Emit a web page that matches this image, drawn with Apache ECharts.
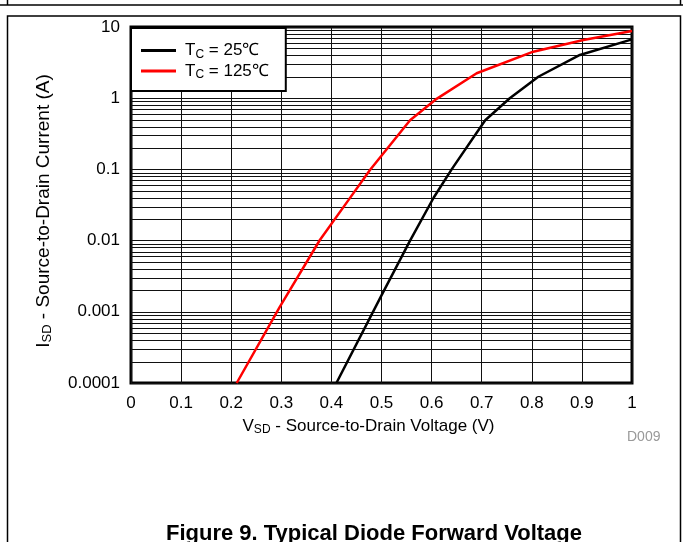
<!DOCTYPE html>
<html><head><meta charset="utf-8">
<script src="https://cdn.jsdelivr.net/npm/echarts@6/dist/echarts.min.js"></script>
<style>html,body{margin:0;padding:0;background:#fff}#c{width:683px;height:542px}</style>
</head><body><div id="c"></div>
<script>
// Data
const vsd25 = [0.41, 0.50, 0.557, 0.604, 0.64, 0.707, 0.756, 0.813, 0.896, 1.0];
const isd25 = [0.0001, 0.0017, 0.01, 0.04, 0.1, 0.49, 1.0, 2.0, 4.05, 6.7];
const vsd125 = [0.211, 0.297, 0.377, 0.434, 0.477, 0.557, 0.61, 0.69, 0.803, 0.903, 1.0];
const isd125 = [0.0001, 0.00117, 0.0102, 0.037, 0.098, 0.49, 0.98, 2.24, 4.5, 6.56, 8.8];
const xTicks = ['0','0.1','0.2','0.3','0.4','0.5','0.6','0.7','0.8','0.9','1'];
const yTicks = ['0.0001','0.001','0.01','0.1','1','10'];
const decades = [0.0001, 0.001, 0.01, 0.1, 1];
const minorMult = [2,3,4,5,6,7,8,9];

const minorVals = [];
decades.forEach(d => minorMult.forEach(m => minorVals.push(+(d*m).toPrecision(2))));

const FONT = '"Liberation Sans", Arial, sans-serif';
const chart = echarts.init(document.getElementById('c'), null, {renderer:'canvas'});
const richX = {
  n: {fontFamily: FONT, fontSize: 17, color:'#000'},
  s: {fontFamily: FONT, fontSize: 12, color:'#000', padding:[8,0,0,0]}
};
const richY = {
  n: {fontFamily: FONT, fontSize: 19, color:'#000'},
  s: {fontFamily: FONT, fontSize: 13, color:'#000', padding:[8,0,0,0]}
};
const richL = {
  n: {fontFamily: FONT, fontSize: 17, color:'#000'},
  s: {fontFamily: FONT, fontSize: 12, color:'#000', padding:[8,0,0,0]}
};
chart.setOption({
  animation: false,
  backgroundColor: '#fff',
  grid: {left:131, right:51, top:27, bottom:159, show:true, borderColor:'#000', borderWidth:3, backgroundColor:'transparent'},
  xAxis: {
    type:'value', min:0, max:1, interval:0.1,
    axisLine:{show:false}, axisTick:{show:false},
    axisLabel:{fontFamily:FONT, fontSize:17, color:'#000', margin:12,
      formatter:(v)=> xTicks[Math.round(v*10)]},
    splitLine:{show:true, lineStyle:{color:'#111', width:1}},
    name:'{n|V}{s|SD}{n| - Source-to-Drain Voltage (V)}',
    nameLocation:'middle', nameGap:33,
    nameTextStyle:{rich: richX, padding:[0,26,0,0]}
  },
  yAxis: {
    type:'log', logBase:10, min:0.0001, max:10,
    axisLine:{show:false}, axisTick:{show:false},
    axisLabel:{fontFamily:FONT, fontSize:17, color:'#000', margin:11,
      formatter:(v)=> yTicks[Math.round(Math.log10(v))+4]},
    splitLine:{show:true, lineStyle:{color:'#111', width:1}},
    name:'{n|I}{s|SD}{n| - Source-to-Drain Current (A)}',
    nameLocation:'middle', nameGap:77,
    nameTextStyle:{rich: richY, padding:[0,12,0,0]}
  },
  legend: {
    left:131, top:28, orient:'vertical',
    backgroundColor:'#fff', borderColor:'#000', borderWidth:2,
    padding:[14,17,10,10], itemWidth:35, itemHeight:3, itemGap:2,
    icon:'rect',
    data:['25','125'],
    formatter:(n)=> '{n|T}{s|C}{n| = '+n+'℃}',
    textStyle:{padding:[0,0,0,4], rich:richL}
  },
  series: [
    {type:'custom', name:'minor', silent:true, z:1,
      encode:{x:0, y:1},
      data: minorVals.map(v=>[0, v]),
      renderItem:(params, api)=>{
        const p1 = api.coord([0, api.value(1)]);
        const p2 = api.coord([1, api.value(1)]);
        const y = Math.round(p1[1]) + 0.5;
        return {type:'line', shape:{x1:p1[0], y1:y, x2:p2[0], y2:y}, style:{stroke:'#111', lineWidth:1}};
      }},
    {type:'line', name:'25', z:3, symbol:'none', lineStyle:{color:'#000', width:2.5}, itemStyle:{color:'#000'},
      data: vsd25.map((x,i)=>[x, isd25[i]])},
    {type:'line', name:'125', z:3, symbol:'none', lineStyle:{color:'#ff0000', width:2.5}, itemStyle:{color:'#ff0000'},
      data: vsd125.map((x,i)=>[x, isd125[i]])}
  ],
  graphic: [
    {type:'line', shape:{x1:0,y1:5,x2:683,y2:5}, style:{stroke:'#000', lineWidth:1.5}},
    {type:'line', shape:{x1:7.5,y1:0,x2:7.5,y2:5}, style:{stroke:'#000', lineWidth:1.5}},
    {type:'line', shape:{x1:680.5,y1:0,x2:680.5,y2:5}, style:{stroke:'#000', lineWidth:1.5}},
    {type:'rect', shape:{x:7.5,y:16,width:673,height:560}, style:{stroke:'#000', fill:'none', lineWidth:1.5}},
    {type:'text', x:627, y:430, style:{text:'D009', fill:'#999', font:'14px '+FONT}},
    {type:'text', x:374, y:523, style:{text:'Figure 9. Typical Diode Forward Voltage', fill:'#000', font:'bold 22px '+FONT, textAlign:'center'}}
  ]
});
</script></body></html>
